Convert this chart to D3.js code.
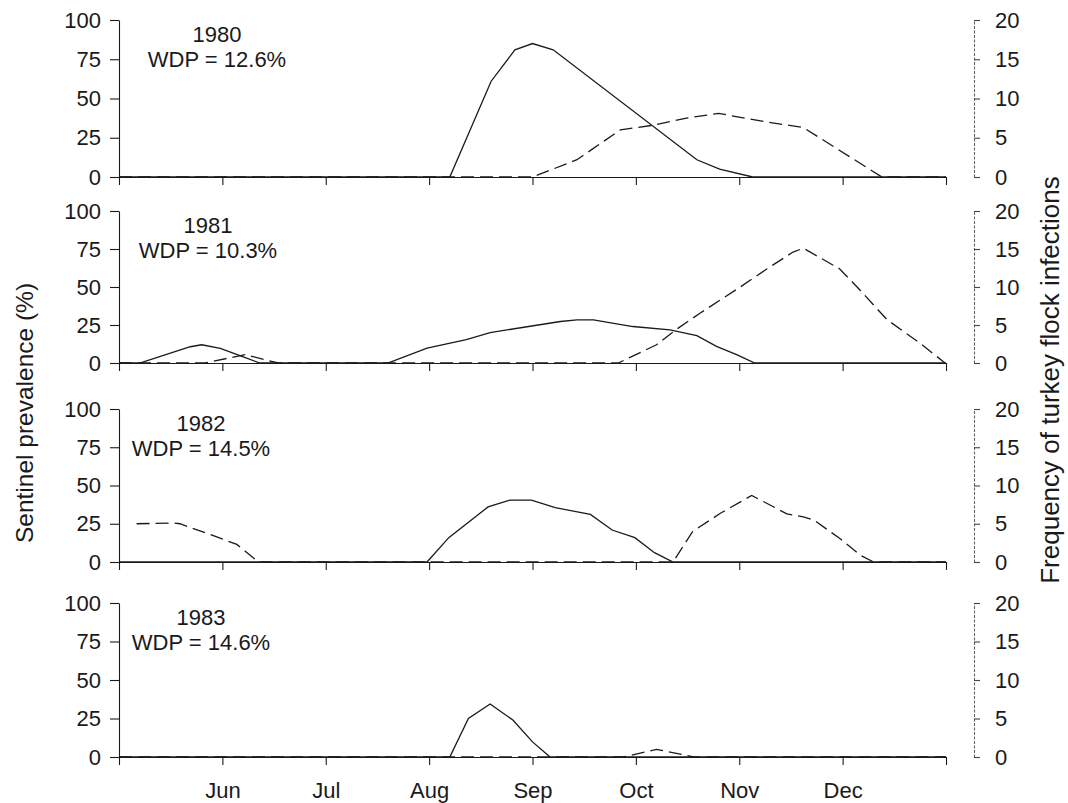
<!DOCTYPE html>
<html><head><meta charset="utf-8">
<script src="https://cdn.jsdelivr.net/npm/d3@7"></script>
<style>
body{margin:0;background:#fff}
text{font-family:"Liberation Sans",Arial,sans-serif;fill:#1a1a1a}
</style>
</head><body>
<svg id="chart" width="1068" height="803"></svg>
<script>
// ---------- data ----------
const years = ["1980", "1981", "1982", "1983"];
const wdpLabels = ["WDP = 12.6%", "WDP = 10.3%", "WDP = 14.5%", "WDP = 14.6%"];
const monthTicks = [0, 1, 2, 3, 4, 5, 6, 7, 8];
const monthLabels = ["", "Jun", "Jul", "Aug", "Sep", "Oct", "Nov", "Dec", ""];
const prevalenceTicks = [0, 25, 50, 75, 100];
const flockTicks = [0, 5, 10, 15, 20];

// [month position, sentinel prevalence (%)]
const sentinel1980 = [[0,0],[3.2,0],[3.6,61],[3.83,81],[4.0,85],[4.2,81],[5.59,11],[5.81,5],[6.13,0],[8,0]];
const sentinel1981 = [[0,0],[0.2,0],[0.69,10.7],[0.8,12],[0.98,9.6],[1.17,4.8],[1.36,0],[2.6,0],[2.98,9.8],[3.17,12.6],[3.36,15.3],[3.59,20],[4.27,27.3],[4.43,28.4],[4.59,28.4],[4.97,24],[5.33,21.8],[5.59,18],[5.78,10.9],[5.98,5.4],[6.15,0],[8,0]];
const sentinel1982 = [[0,0],[2.98,0],[3.19,15.9],[3.57,36],[3.78,40.4],[3.99,40.4],[4.22,35.5],[4.56,31.1],[4.77,20.9],[4.99,15.9],[5.18,6.1],[5.36,0],[8,0]];
const sentinel1983 = [[0,0],[3.2,0],[3.38,25],[3.59,34.4],[3.81,24],[4.0,9.8],[4.17,0],[8,0]];

// [month position, turkey flock infections]
const flocks1980 = [[0,0],[4.0,0],[4.43,2.2],[4.85,6.0],[5.17,6.6],[5.49,7.5],[5.80,8.1],[6.27,7.0],[6.62,6.3],[7.38,0],[8,0]];
const flocks1981 = [[0,0],[0.83,0],[1.22,1.1],[1.54,0],[4.83,0],[5.2,2.4],[5.39,4.4],[5.62,6.55],[6.01,10],[6.27,12.4],[6.52,14.6],[6.62,15.1],[6.97,12.4],[7.14,10],[7.43,5.7],[7.75,2.6],[7.99,0]];
const flocks1982 = [[0.17,5.0],[0.53,5.1],[0.59,5.0],[0.88,3.6],[1.14,2.3],[1.35,0],[5.36,0],[5.55,4.0],[5.81,6.3],[6.12,8.7],[6.46,6.3],[6.62,5.9],[6.72,5.5],[6.97,3.1],[7.17,0.9],[7.3,0],[8,0]];
const flocks1983 = [[0,0],[4.88,0],[5.2,1.0],[5.56,0],[8,0]];

const sentinelSeries = [sentinel1980, sentinel1981, sentinel1982, sentinel1983];
const flockSeries = [flocks1980, flocks1981, flocks1982, flocks1983];

// ---------- layout ----------
const panelTop = [20, 211, 409, 603];
const panelBottom = [177, 363, 562, 757];
const labelX = [217, 208, 201, 201];
const xLeft = 119, xRight = 946, rightAxisX = 974;
const tickFont = 22;

const svg = d3.select("#chart");
const x = d3.scaleLinear().domain([0, 8]).range([xLeft, xRight]);

years.forEach((yr, i) => {
  const yP = d3.scaleLinear().domain([0, 100]).range([panelBottom[i], panelTop[i]]);
  const yF = d3.scaleLinear().domain([0, 20]).range([panelBottom[i], panelTop[i]]);
  const g = svg.append("g");

  const gl = g.append("g").attr("transform", `translate(${xLeft},0)`)
    .call(d3.axisLeft(yP).tickValues(prevalenceTicks).tickSize(9).tickPadding(9).tickSizeOuter(0));
  const gb = g.append("g").attr("transform", `translate(0,${panelBottom[i]})`)
    .call(d3.axisBottom(x).tickValues(monthTicks).tickSize(8).tickPadding(17).tickSizeOuter(0)
      .tickFormat(d => i === 3 ? monthLabels[d] : ""));
  const gr = g.append("g").attr("transform", `translate(${rightAxisX},0)`)
    .call(d3.axisRight(yF).tickValues(flockTicks).tickSize(6).tickPadding(15).tickSizeOuter(0));

  [gl, gb, gr].forEach(a => {
    a.selectAll("text").attr("font-size", tickFont).style("font-family", '"Liberation Sans",Arial,sans-serif').attr("fill", "#1a1a1a");
    a.selectAll("line").attr("stroke", "#1a1a1a").attr("stroke-width", 1.1);
    a.select(".domain").attr("stroke", "#1a1a1a").attr("stroke-width", 1.1);
  });
  gr.select(".domain").attr("stroke", "#666").attr("stroke-dasharray", "3,1.5");
  gr.selectAll("line").attr("stroke", "#444");

  const lineP = d3.line().x(d => x(d[0])).y(d => yP(d[1]));
  const lineF = d3.line().x(d => x(d[0])).y(d => yF(d[1]));
  g.append("path").datum(flockSeries[i]).attr("d", lineF)
    .attr("fill", "none").attr("stroke", "#1a1a1a").attr("stroke-width", 1.3)
    .attr("stroke-dasharray", "13,6");
  g.append("path").datum(sentinelSeries[i]).attr("d", lineP)
    .attr("fill", "none").attr("stroke", "#1a1a1a").attr("stroke-width", 1.3);

  g.append("text").attr("x", labelX[i]).attr("y", panelTop[i] + 22)
    .attr("text-anchor", "middle").attr("font-size", tickFont).text(yr);
  g.append("text").attr("x", labelX[i]).attr("y", panelTop[i] + 47)
    .attr("text-anchor", "middle").attr("font-size", tickFont).text(wdpLabels[i]);
});

svg.append("text").attr("transform", "translate(33,413) rotate(-90)")
  .attr("text-anchor", "middle").attr("font-size", 24.5).text("Sentinel prevalence (%)");
svg.append("text").attr("transform", "translate(1059,380) rotate(-90)")
  .attr("text-anchor", "middle").attr("font-size", 26).text("Frequency of turkey flock infections");
</script>
</body></html>
